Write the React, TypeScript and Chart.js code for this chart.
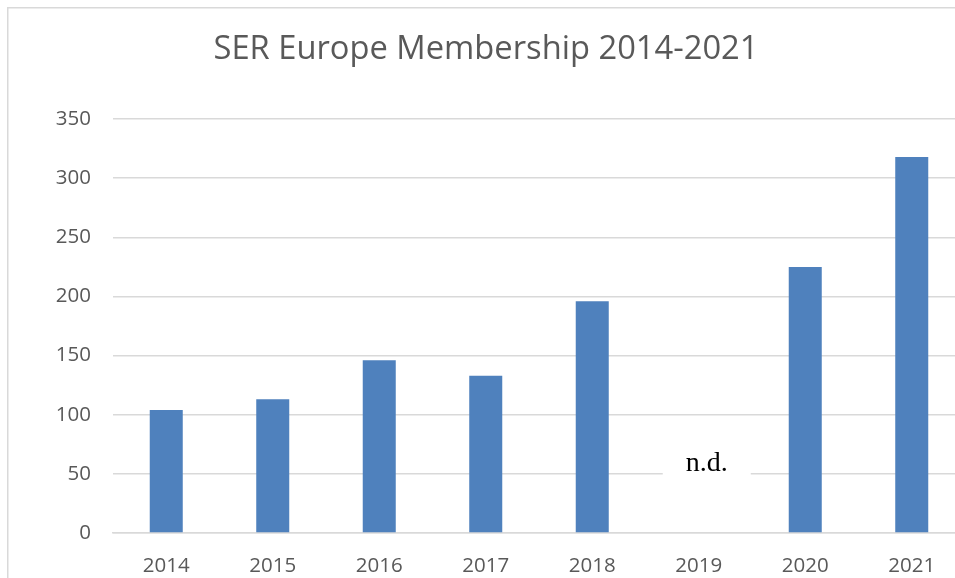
import React, { useEffect, useRef } from "react";
import { Chart, registerables } from "chart.js";

Chart.register(...registerables);

const categories = ["2014", "2015", "2016", "2017", "2018", "2019", "2020", "2021"];
const members: (number | null)[] = [104, 113, 146, 133, 196, null, 225, 318];
const missingLabel = "n.d.";
const missingIndex = 5;
const missingLabelValue = 59;
const titleText = "SER Europe Membership 2014-2021";

const FONT = "'Open Sans', 'Noto Sans', sans-serif";

const framePlugin = {
  id: "frame",
  beforeDraw(chart: any) {
    const ctx = chart.ctx;
    ctx.save();
    ctx.fillStyle = "#ffffff";
    ctx.fillRect(0, 0, chart.width, chart.height);
    ctx.strokeStyle = "#d9d9d9";
    ctx.lineWidth = 1.5;
    ctx.beginPath();
    ctx.moveTo(0.75, chart.height);
    ctx.lineTo(0.75, 0.75);
    ctx.lineTo(chart.width, 0.75);
    ctx.stroke();
    ctx.restore();
  },
};

const ndPlugin = {
  id: "ndLabel",
  afterDatasetsDraw(chart: any) {
    const ctx = chart.ctx;
    const xs = chart.scales.x;
    const ys = chart.scales.y;
    const cx = xs.getPixelForValue(missingIndex) + 8;
    const cy = ys.getPixelForValue(missingLabelValue);
    ctx.save();
    ctx.fillStyle = "#ffffff";
    ctx.fillRect(cx - 44, cy - 20, 88, 40);
    ctx.fillStyle = "#000000";
    ctx.font = "28px 'Liberation Serif', 'Times New Roman', serif";
    ctx.textAlign = "center";
    ctx.textBaseline = "middle";
    ctx.fillText(missingLabel, cx, cy);
    ctx.restore();
  },
};

export default function App() {
  const ref = useRef<HTMLCanvasElement | null>(null);
  useEffect(() => {
    document.documentElement.style.overflow = "hidden";
    document.body.style.overflow = "hidden";
    if (!ref.current) return;
    const chart = new Chart(ref.current, {
      type: "bar",
      data: {
        labels: categories,
        datasets: [
          {
            data: members,
            backgroundColor: "#4F81BD",
            barPercentage: 0.31,
            categoryPercentage: 1,
          },
        ],
      },
      options: {
        animation: false,
        responsive: false,
        devicePixelRatio: 1,
        layout: { padding: { left: 0, right: 3, top: 0, bottom: 0 } },
        plugins: {
          legend: { display: false },
          tooltip: { enabled: false },
          title: {
            display: true,
            text: titleText,
            color: "#595959",
            font: { family: FONT, size: 32.7, weight: "normal" },
            padding: { top: 23.4, bottom: 49.4 },
          },
        },
        scales: {
          x: {
            grid: { display: false, drawTicks: false },
            border: { display: true, color: "#d9d9d9", width: 1.5 },
            ticks: {
              color: "#595959",
              font: { family: FONT, size: 20.5 },
              padding: 21,
              maxRotation: 0,
            },
            afterFit: (s: any) => {
              s.height = 60;
            },
          },
          y: {
            min: 0,
            max: 350,
            ticks: {
              stepSize: 50,
              color: "#595959",
              font: { family: FONT, size: 20.5 },
              padding: 22,
            },
            grid: { color: "#d9d9d9", lineWidth: 1.5, drawTicks: false },
            border: { display: false },
            afterFit: (s: any) => {
              s.width = 106;
            },
          },
        },
      },
      plugins: [framePlugin, ndPlugin],
    });
    return () => chart.destroy();
  }, []);

  return (
    <div
      style={{
        position: "fixed",
        left: 7,
        top: 7,
        width: 948,
        height: 571,
        overflow: "hidden",
        background: "#ffffff",
      }}
    >
      <canvas ref={ref} width={961} height={586} style={{ display: "block" }} />
    </div>
  );
}
